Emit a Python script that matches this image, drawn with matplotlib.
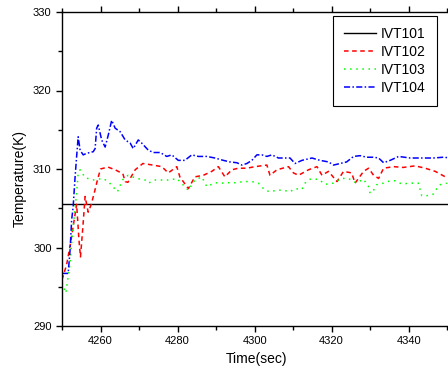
import numpy as np
import matplotlib
matplotlib.use('Agg')
import matplotlib.pyplot as plt

plt.rcParams['font.family'] = ['Liberation Sans', 'DejaVu Sans']

# IVT101 : constant reference
t101 = [4250, 4351]
T101 = [305.5, 305.5]

# IVT102
t102 = [4250.0, 4251.2, 4252.2, 4253.0, 4253.8, 4254.4, 4254.8, 4255.4, 4256.0, 4256.8,
        4257.6, 4258.4, 4259.2, 4260.0, 4261.9, 4263.8, 4265.8, 4266.4, 4267.1, 4269.0,
        4271.0, 4273.6, 4275.9, 4277.6, 4279.8, 4280.6, 4282.8, 4284.5, 4286.7, 4288.9,
        4290.6, 4292.3, 4294.1, 4295.8, 4298.0, 4300.1, 4303.2, 4304.0, 4305.8, 4308.8,
        4310.1, 4311.4, 4314.0, 4316.2, 4317.5, 4319.2, 4321.4, 4323.1, 4325.2, 4326.1,
        4328.3, 4329.6, 4330.9, 4332.2, 4333.5, 4336.1, 4338.6, 4341.7, 4344.3, 4346.9,
        4349.9]
T102 = [295.9, 297.8, 300.5, 303.0, 305.5, 301.0, 298.8, 302.5, 306.5, 304.5,
        305.5, 307.0, 308.6, 310.0, 310.25, 309.9, 309.4, 308.4, 308.3, 309.9,
        310.7, 310.5, 310.3, 309.5, 310.3, 309.0, 307.5, 309.0, 309.2, 309.7,
        310.3, 309.0, 309.9, 310.1, 310.1, 310.3, 310.5, 309.2, 309.9, 310.3,
        309.5, 309.2, 309.9, 310.3, 309.2, 309.7, 308.4, 309.7, 309.5, 308.2,
        309.7, 310.1, 309.2, 308.8, 310.1, 310.3, 310.2, 310.4, 310.1, 309.7,
        308.9]

# IVT103
t103 = [4250.0, 4251.0, 4252.1, 4252.5, 4252.9, 4253.8, 4254.2, 4254.7, 4256.0, 4258.0,
        4260.7, 4262.2, 4264.4, 4265.7, 4267.2, 4269.4, 4271.6, 4272.4, 4274.2, 4276.3,
        4278.1, 4279.8, 4282.8, 4284.5, 4286.3, 4287.6, 4289.7, 4291.5, 4293.2, 4295.4,
        4297.1, 4299.3, 4301.0, 4302.7, 4304.0, 4305.8, 4307.5, 4309.2, 4310.5, 4312.3,
        4313.1, 4314.4, 4316.6, 4318.3, 4320.5, 4322.6, 4324.4, 4325.7, 4326.5, 4328.3,
        4329.6, 4330.0, 4330.9, 4331.7, 4333.5, 4335.2, 4336.5, 4338.2, 4340.8, 4342.5,
        4343.4, 4344.7, 4346.4, 4347.3, 4348.2, 4349.9]
T103 = [295.5, 294.2, 298.0, 300.6, 302.6, 307.0, 309.5, 309.9, 308.9, 308.6,
        308.8, 308.3, 307.1, 308.6, 309.2, 308.8, 308.6, 308.2, 308.6, 308.6,
        308.6, 308.8, 307.3, 308.6, 309.0, 307.75, 308.25, 308.2, 308.25, 308.25,
        308.4, 308.4, 308.2, 307.3, 307.1, 307.3, 307.3, 307.1, 307.5, 307.4,
        308.2, 308.7, 308.7, 308.05, 308.2, 308.8, 308.8, 308.4, 308.25, 308.7,
        307.75, 306.9, 307.3, 308.0, 308.2, 308.5, 308.5, 308.1, 308.2, 308.2,
        306.6, 306.6, 306.8, 307.5, 308.0, 308.2]

# IVT104
t104 = [4250.0, 4251.6, 4252.1, 4252.5, 4252.9, 4253.4, 4253.8, 4254.2, 4254.7, 4255.5,
        4256.4, 4258.1, 4258.6, 4259.0, 4259.4, 4260.3, 4261.2, 4262.0, 4262.9, 4263.8,
        4265.1, 4266.4, 4267.7, 4268.5, 4269.8, 4270.7, 4272.4, 4273.7, 4275.5, 4277.2,
        4278.5, 4280.2, 4281.9, 4283.7, 4285.4, 4287.6, 4289.7, 4291.9, 4293.6, 4295.4,
        4296.7, 4298.0, 4299.3, 4300.6, 4301.9, 4303.2, 4304.5, 4306.2, 4307.1, 4309.2,
        4310.5, 4312.3, 4314.9, 4317.0, 4319.2, 4320.5, 4322.2, 4323.9, 4325.7, 4327.4,
        4329.1, 4330.9, 4332.2, 4333.5, 4335.2, 4337.4, 4340.4, 4343.4, 4346.4, 4349.0,
        4351.0]
T104 = [296.7, 296.7, 299.7, 303.5, 305.2, 309.0, 311.6, 314.1, 312.4, 311.8,
        312.0, 312.2, 312.6, 315.2, 315.6, 313.7, 312.8, 314.3, 316.2, 315.2,
        314.75, 313.7, 313.3, 312.6, 313.7, 313.3, 312.4, 312.1, 312.1, 311.6,
        311.8, 311.1, 311.1, 311.8, 311.6, 311.6, 311.4, 311.1, 310.9, 310.8,
        310.5, 310.7, 311.1, 311.8, 311.8, 311.6, 311.8, 311.4, 311.4, 311.4,
        310.7, 311.1, 311.4, 311.1, 310.9, 310.5, 310.7, 310.9, 311.6, 311.7,
        311.5, 311.5, 311.4, 310.8, 311.1, 311.6, 311.4, 311.4, 311.4, 311.5,
        311.4]

xticks = [4260, 4280, 4300, 4320, 4340]
yticks = [290, 300, 310, 320, 330]

fig = plt.figure(figsize=(4.48, 3.77), dpi=100)
# axes run off the right edge of the picture, like the original
ax = fig.add_axes([62/448., 51/377., 389/448., 314/377.])

ax.plot(t101, T101, color='k', lw=1.0, ls='-', label='IVT101')
ax.plot(t102, T102, color='#ff0000', lw=1.1, ls=(0, (3, 2.3)), label='IVT102')
ax.plot(t103, T103, color='#00ff00', lw=1.1, ls=(0, (1, 3)), label='IVT103')
ax.plot(t104, T104, color='#0000ff', lw=1.1, ls=(0, (4, 1.5, 1, 1.5)), label='IVT104')

ax.set_xlim(4250, 4351)
ax.set_ylim(290, 330)
ax.set_xticks(xticks)
ax.set_yticks(yticks)
ax.set_xticks(np.arange(4250, 4351, 10), minor=True)
ax.set_yticks(np.arange(290, 331, 5), minor=True)
ax.tick_params(which='both', direction='out', top=True, right=False,
               labelsize=8, width=1.0)
ax.tick_params(which='major', length=4)
ax.tick_params(which='minor', length=3)
for s in ax.spines.values():
    s.set_linewidth(1.0)

ax.set_xlabel('Time(sec)', fontsize=10)
ax.set_ylabel('Temperature(K)', fontsize=10)
ax.yaxis.set_label_coords(-0.09, 0.471)

leg = ax.legend(loc='upper right', bbox_to_anchor=(437/448., 361/377.),
                bbox_transform=fig.transFigure, borderaxespad=0,
                fontsize=10, handlelength=2.3, handletextpad=0.34,
                labelspacing=0.28, borderpad=0.8,
                fancybox=False, framealpha=1, edgecolor='k')
leg.get_frame().set_linewidth(0.8)

plt.savefig('out.png', dpi=100)
